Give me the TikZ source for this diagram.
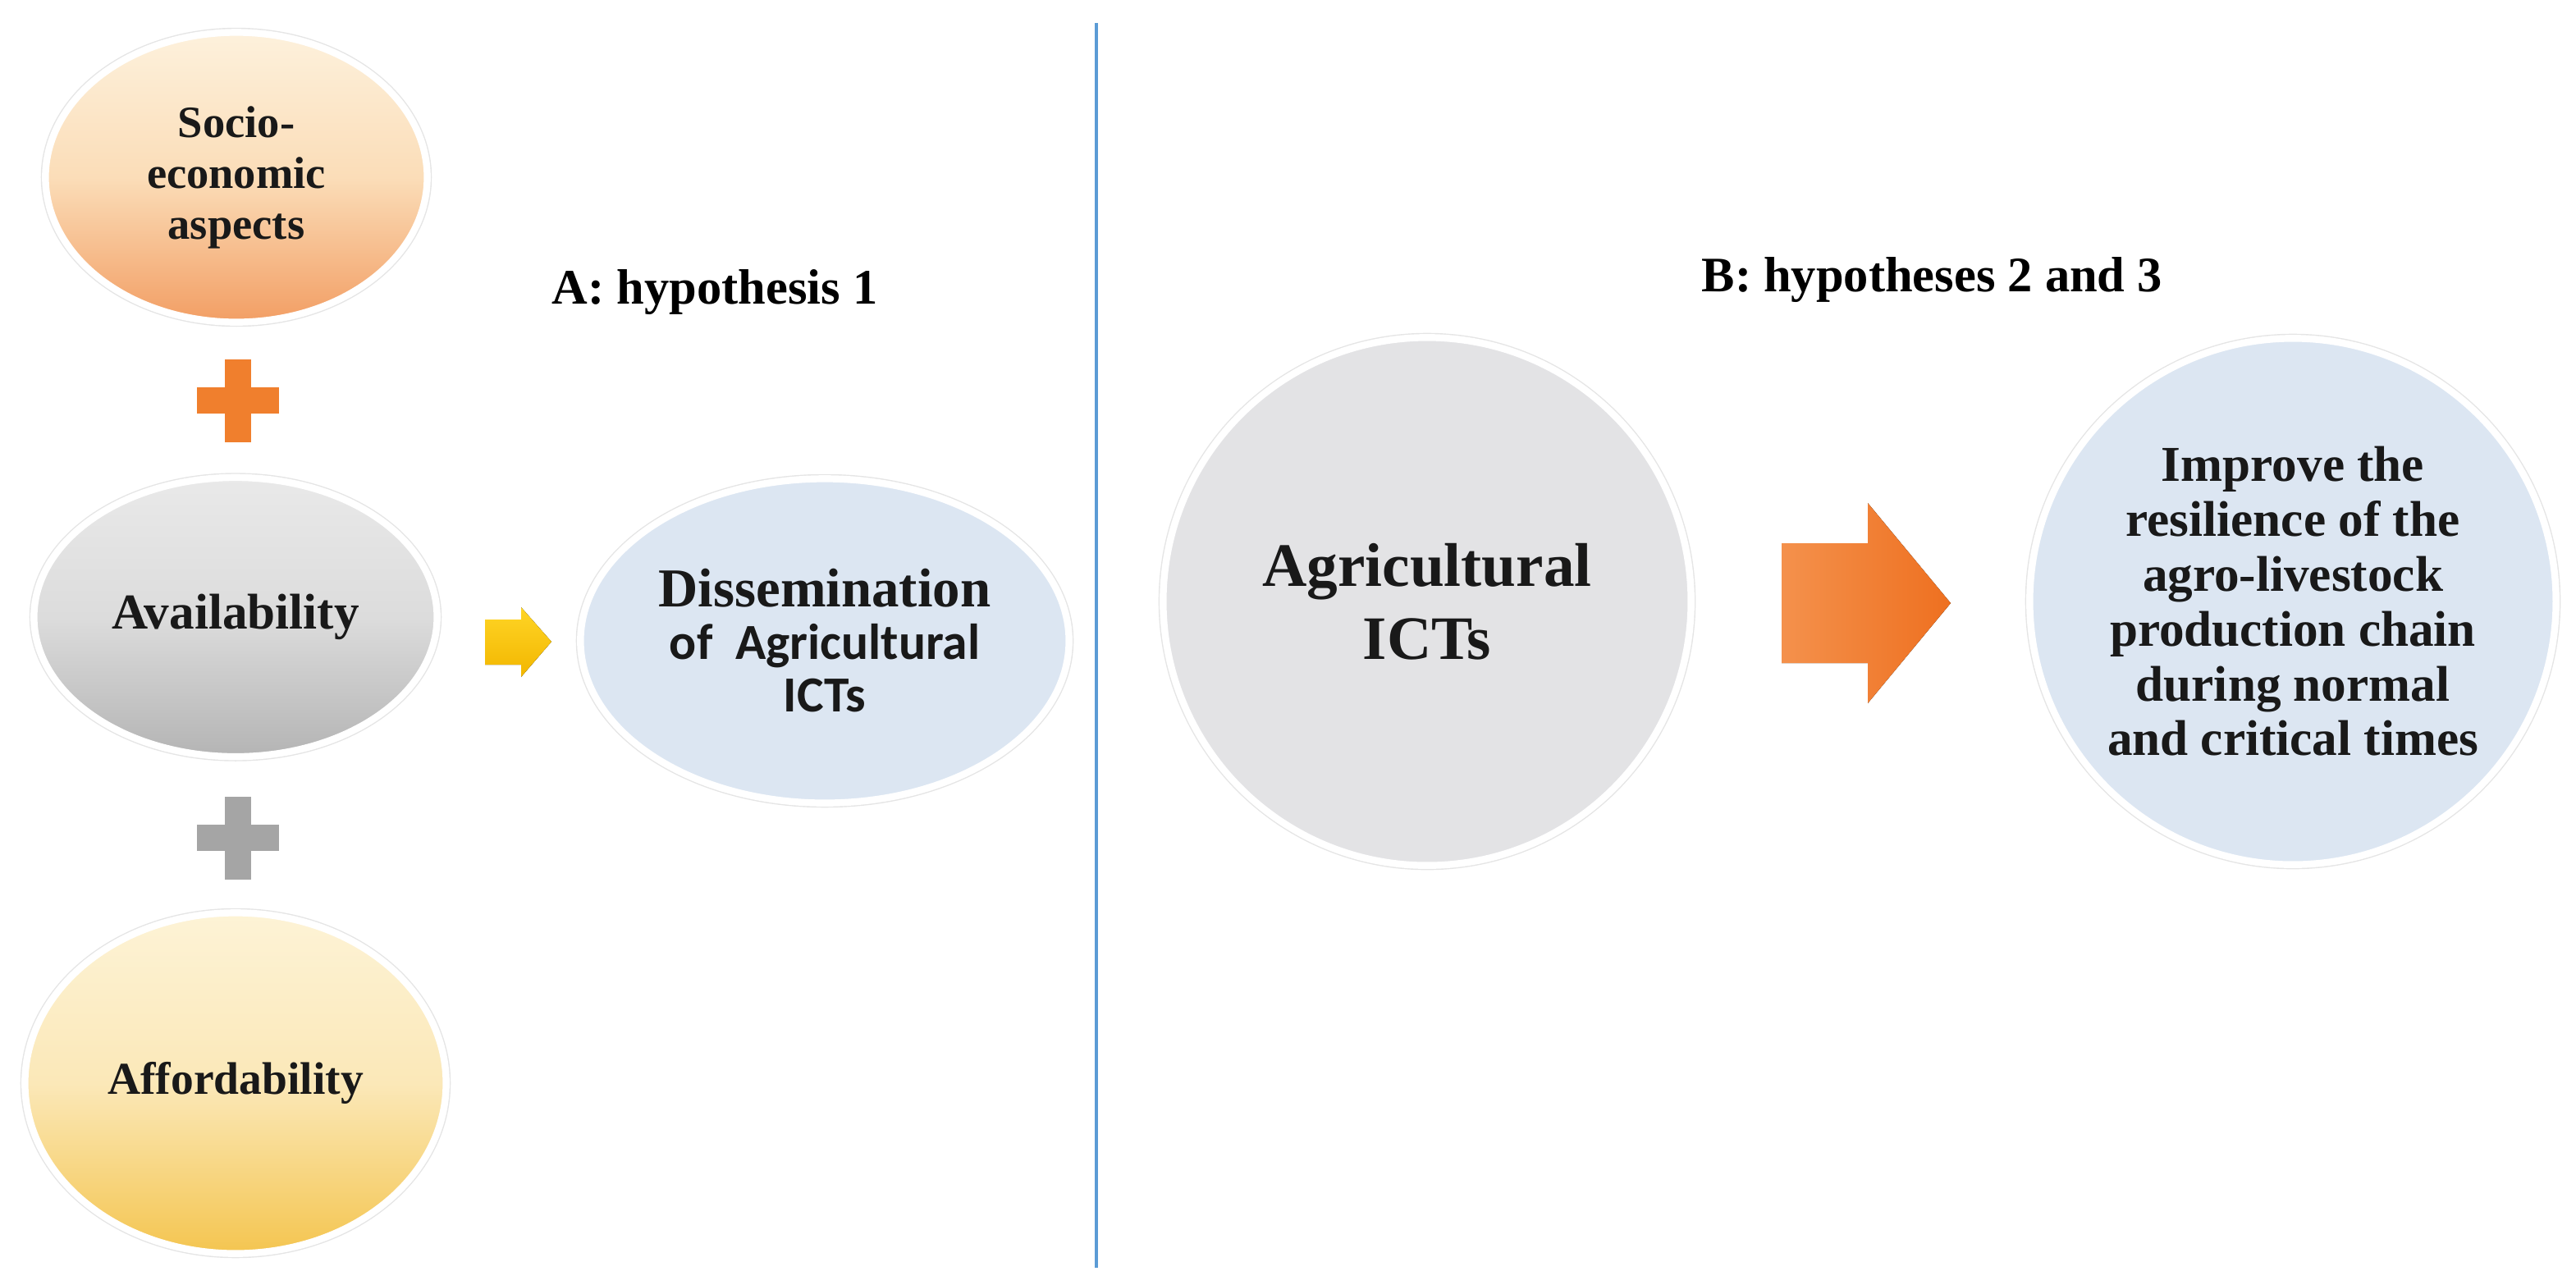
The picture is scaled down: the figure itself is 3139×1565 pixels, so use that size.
\documentclass[tikz,border=0pt]{standalone}
\usepackage{fontspec}
\setmainfont{Liberation Serif}
\newfontfamily\calib{Carlito}
\usetikzlibrary{shapes.geometric}

\definecolor{socioTop}{HTML}{FDF1DC}
\definecolor{socioMid}{HTML}{FBDDB8}
\definecolor{socioBot}{HTML}{F29E64}
\definecolor{availTop}{HTML}{E9E9E9}
\definecolor{availMid}{HTML}{DCDCDC}
\definecolor{availBot}{HTML}{B4B4B4}
\definecolor{affTop}{HTML}{FDF3D6}
\definecolor{affMid}{HTML}{FBE8B8}
\definecolor{affBot}{HTML}{F4C550}
\definecolor{paleblue}{HTML}{DCE6F2}
\definecolor{palegray}{HTML}{E3E3E5}
\definecolor{plusorange}{HTML}{F07F2D}
\definecolor{plusgray}{HTML}{A5A5A5}
\definecolor{arrYelTop}{HTML}{FFD526}
\definecolor{arrYelBot}{HTML}{F2B600}
\definecolor{arrOrL}{HTML}{F4914C}
\definecolor{arrOrR}{HTML}{EE7020}
\definecolor{divider}{HTML}{5B9BD5}

\begin{document}
\begin{tikzpicture}[x=0.01cm,y=-0.01cm,inner sep=0pt,
    bubble/.style={ellipse,align=center,text=black!90,
        preaction={draw=black!10,line width=3.2pt},draw=white,line width=2.4pt},
    roundbubble/.style={bubble,circle},
    heading/.style={anchor=base west,font=\fontsize{17.2}{20}\selectfont\bfseries}]
    \useasboundingbox (0,0) rectangle (3139,1565);

    % left part: A
    \node[bubble,top color=socioTop,bottom color=socioBot,middle color=socioMid,
        minimum width=4.65cm,minimum height=3.53cm,
        font=\fontsize{15.5}{17.6}\selectfont\bfseries] (socio) at (288,216)
        {Socio-\\economic\\aspects};
    \node[bubble,top color=availTop,bottom color=availBot,middle color=availMid,
        minimum width=4.91cm,minimum height=3.4cm,
        font=\fontsize{17.4}{20}\selectfont\bfseries] (avail) at (287,752)
        {Availability};
    \node[bubble,top color=affTop,bottom color=affBot,middle color=affMid,
        minimum width=5.13cm,minimum height=4.15cm,
        font=\fontsize{15.8}{18}\selectfont\bfseries] (afford) at (287,1320)
        {Affordability};
    \node[bubble,fill=paleblue,minimum width=5.95cm,minimum height=3.95cm,
        font=\fontsize{17.5}{18.2}\selectfont\bfseries] (dissem) at (1005,781)
        {{\fontsize{19}{18.2}\selectfont Dissemination}\\\calib of~ Agricultural\\\calib ICTs};
    \node[heading] (headA) at (672,370) {A: hypothesis 1};

    % plus signs
    \coordinate (plusA) at (290,488);
    \coordinate (plusB) at (290,1021);
    \fill[plusorange] (plusA) ++(-50,-16) rectangle ++(100,32);
    \fill[plusorange] (plusA) ++(-16,-50) rectangle ++(32,101);
    \fill[plusgray] (plusB) ++(-50,-16) rectangle ++(100,32);
    \fill[plusgray] (plusB) ++(-16,-50) rectangle ++(32,101);

    % yellow arrow
    \coordinate (yarrow) at (591,755);
    \fill[top color=arrYelTop,bottom color=arrYelBot] (yarrow) -- ++(44,0) -- ++(0,-15)
        -- ++(37,42) -- ++(-37,43) -- ++(0,-15) -- ++(-44,0) -- cycle;

    % divider
    \coordinate (divtop) at (1336,28);
    \coordinate (divbot) at (1336,1545);
    \draw[divider,line width=1.1pt] (divtop) -- (divbot);

    % right part: B
    \node[heading] (headB) at (2073,355) {B: hypotheses 2 and 3};
    \node[roundbubble,fill=palegray,minimum size=6.43cm,
        font=\fontsize{21.4}{25.3}\selectfont\bfseries] (agri) at (1739,733)
        {Agricultural\\ICTs};
    \node[roundbubble,fill=paleblue,minimum size=6.41cm,
        font=\fontsize{17.4}{19}\selectfont\bfseries] (improve) at (2794,733)
        {Improve the\\resilience of the\\agro-livestock\\production chain\\during normal\\and critical times};

    % orange arrow
    \coordinate (oarrow) at (2171,662);
    \fill[left color=arrOrL,right color=arrOrR] (oarrow) -- ++(105,0) -- ++(0,-49)
        -- ++(101,122) -- ++(-101,122) -- ++(0,-49) -- ++(-105,0) -- cycle;
\end{tikzpicture}
\end{document}
